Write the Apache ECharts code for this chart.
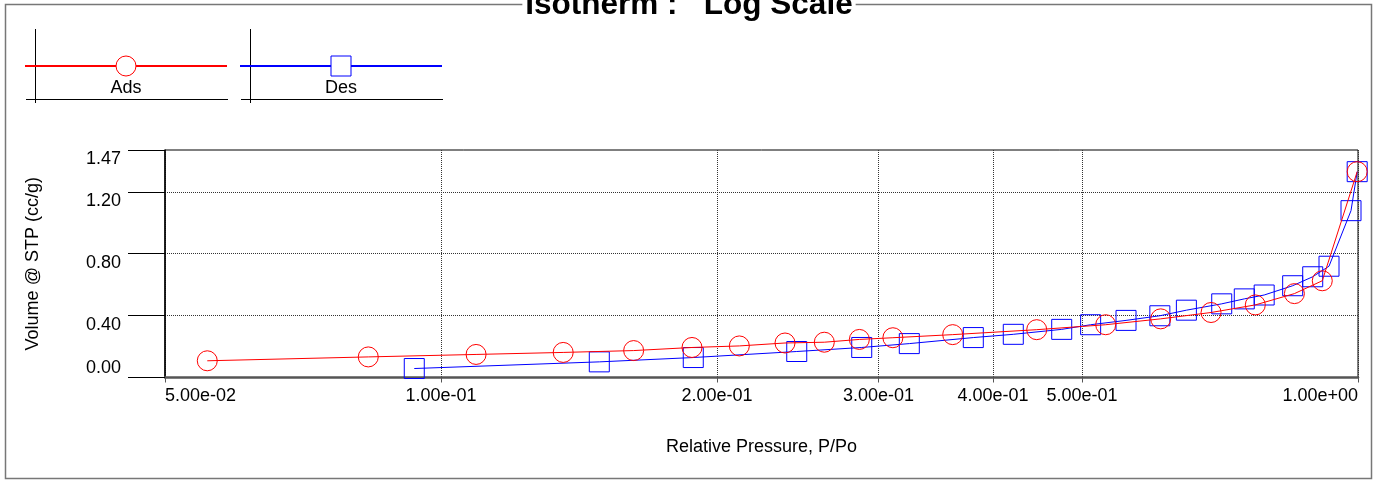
<!DOCTYPE html>
<html>
<head>
<meta charset="utf-8">
<script src="https://cdn.jsdelivr.net/npm/echarts@6/dist/echarts.min.js"></script>
<style>
  html, body { margin: 0; padding: 0; background: #fff; }
  #chart { width: 1378px; height: 481px; }
</style>
</head>
<body>
<div id="chart"></div>
<script>
// Adsorption branch: relative pressure P/Po and adsorbed volume (cc/g STP)
const adsPressure = [0.0556, 0.0833, 0.1092, 0.1359, 0.1622, 0.1878, 0.2115, 0.2372, 0.2618, 0.2859,
                     0.311, 0.3614, 0.4463, 0.5307, 0.6093, 0.6914, 0.7727, 0.8524, 0.9142, 0.998];
const adsVolume   = [0.108, 0.133, 0.149, 0.162, 0.174, 0.194, 0.204, 0.223, 0.228, 0.246,
                     0.257, 0.277, 0.309, 0.341, 0.379, 0.420, 0.469, 0.542, 0.625, 1.330];

// Desorption branch
const desPressure = [0.0935, 0.1488, 0.1884, 0.2443, 0.2876, 0.3241, 0.3806, 0.4208, 0.4752, 0.511,
                     0.5585, 0.608, 0.6499, 0.7102, 0.7516, 0.7901, 0.8487, 0.8925, 0.9298, 0.9826, 0.998];
const desVolume   = [0.058, 0.101, 0.129, 0.168, 0.194, 0.219, 0.258, 0.279, 0.311, 0.341,
                     0.369, 0.399, 0.435, 0.476, 0.508, 0.533, 0.593, 0.651, 0.719, 1.078, 1.330];

// Axis ticks
const xTickValues = [0.05, 0.1, 0.2, 0.3, 0.4, 0.5, 1.0];
const xGridValues = [0.1, 0.2, 0.3, 0.4, 0.5];
const xMin = 0.05, xMax = 1.0;
const yMin = 0, yMax = 1.47, yInterval = 0.4;

const FONT = '"Liberation Sans", Arial, Helvetica, sans-serif';

// 5.00e-02 style labels
function sci(v) {
  const parts = Number(v).toExponential(2).split('e');
  const n = parseInt(parts[1], 10);
  return parts[0] + 'e' + (n < 0 ? '-' : '+') + String(Math.abs(n)).padStart(2, '0');
}

function pairs(xs, ys) { return xs.map((x, i) => [x, ys[i]]); }

const chart = echarts.init(document.getElementById('chart'), null, { renderer: 'canvas' });

const legendBase = {
  top: 53.5, padding: 0, itemWidth: 202, itemHeight: 25, selectedMode: false,
  formatter: () => '',
  itemStyle: { color: '#fff', borderWidth: 1 }
};

chart.setOption({
  backgroundColor: '#fff',
  animation: false,
  title: {
    text: 'Isotherm :   Log Scale',
    left: 'center', top: -11, z: 10,
    backgroundColor: '#fff', padding: [0, 3],
    textStyle: { fontFamily: FONT, fontSize: 31.5, fontWeight: 'bold', color: '#000' }
  },
  legend: [
    Object.assign({}, legendBase, { left: 24, data: ['Ads'] }),
    Object.assign({}, legendBase, { left: 239, data: ['Des'] })
  ],
  graphic: [
    { type: 'rect', z: 0, silent: true,
      shape: { x: 5.5, y: 4.5, width: 1366, height: 474 },
      style: { fill: 'none', stroke: '#777', lineWidth: 1.5 } },
    // legend key frames
    { type: 'line', silent: true, shape: { x1: 35.5, y1: 29, x2: 35.5, y2: 103 }, style: { stroke: '#000', lineWidth: 1 } },
    { type: 'line', silent: true, shape: { x1: 26, y1: 99.5, x2: 228, y2: 99.5 }, style: { stroke: '#000', lineWidth: 1 } },
    { type: 'line', silent: true, shape: { x1: 250.5, y1: 29, x2: 250.5, y2: 103 }, style: { stroke: '#000', lineWidth: 1 } },
    { type: 'line', silent: true, shape: { x1: 241, y1: 99.5, x2: 443, y2: 99.5 }, style: { stroke: '#000', lineWidth: 1 } },
    { type: 'text', silent: true, x: 126, y: 88,
      style: { text: 'Ads', font: '18px ' + FONT, fill: '#000', align: 'center', verticalAlign: 'middle' } },
    { type: 'text', silent: true, x: 341, y: 88,
      style: { text: 'Des', font: '18px ' + FONT, fill: '#000', align: 'center', verticalAlign: 'middle' } }
  ],
  grid: {
    left: 165, right: 20, top: 150, bottom: 103.5,
    show: true, borderColor: '#000', borderWidth: 1, backgroundColor: 'transparent'
  },
  xAxis: {
    type: 'log', logBase: 10, min: xMin, max: xMax,
    name: 'Relative Pressure, P/Po', nameLocation: 'middle', nameGap: 61,
    nameTextStyle: { fontFamily: FONT, fontSize: 18, color: '#000' },
    axisLine: { show: true, onZero: false, lineStyle: { color: '#555', width: 2.5 } },
    axisTick: { show: true, customValues: xTickValues, length: 5, lineStyle: { color: '#555', width: 1 } },
    axisLabel: {
      customValues: xTickValues, formatter: sci, margin: 10,
      fontFamily: FONT, fontSize: 18, color: '#000',
      alignMinLabel: 'left', alignMaxLabel: 'right', showMinLabel: true, showMaxLabel: true
    },
    splitLine: { show: true, customValues: xGridValues, lineStyle: { color: '#333', width: 1, type: [1, 1] } },
    minorTick: { show: false }, minorSplitLine: { show: false }
  },
  yAxis: {
    type: 'value', min: yMin, max: yMax, interval: yInterval,
    name: 'Volume @ STP (cc/g)', nameLocation: 'middle', nameGap: 123,
    nameTextStyle: { fontFamily: FONT, fontSize: 18, color: '#000' },
    axisLine: { show: true, lineStyle: { color: '#000', width: 1.5 } },
    axisTick: { show: true, length: 37, lineStyle: { color: '#000', width: 1 } },
    axisLabel: {
      formatter: v => Number(v).toFixed(2), margin: 44,
      fontFamily: FONT, fontSize: 18, color: '#000',
      verticalAlign: 'top', verticalAlignMinLabel: 'bottom',
      showMinLabel: true, showMaxLabel: true
    },
    splitLine: {
      show: true, showMinLine: false, showMaxLine: false,
      lineStyle: { color: '#333', width: 1, type: [1, 1] }
    }
  },
  series: [
    {
      name: 'Ads', type: 'line', data: pairs(adsPressure, adsVolume),
      symbol: 'circle', symbolSize: 20,
      itemStyle: { color: 'rgba(0,0,0,0)', borderColor: '#ff0000', borderWidth: 1 },
      lineStyle: { color: '#ff0000', width: 1 },
      emphasis: { disabled: true }, z: 3
    },
    {
      name: 'Des', type: 'line', data: pairs(desPressure, desVolume),
      symbol: 'rect', symbolSize: 20,
      itemStyle: { color: 'rgba(0,0,0,0)', borderColor: '#0000ff', borderWidth: 1 },
      lineStyle: { color: '#0000ff', width: 1 },
      emphasis: { disabled: true }, z: 2
    }
  ]
});
</script>
</body>
</html>
